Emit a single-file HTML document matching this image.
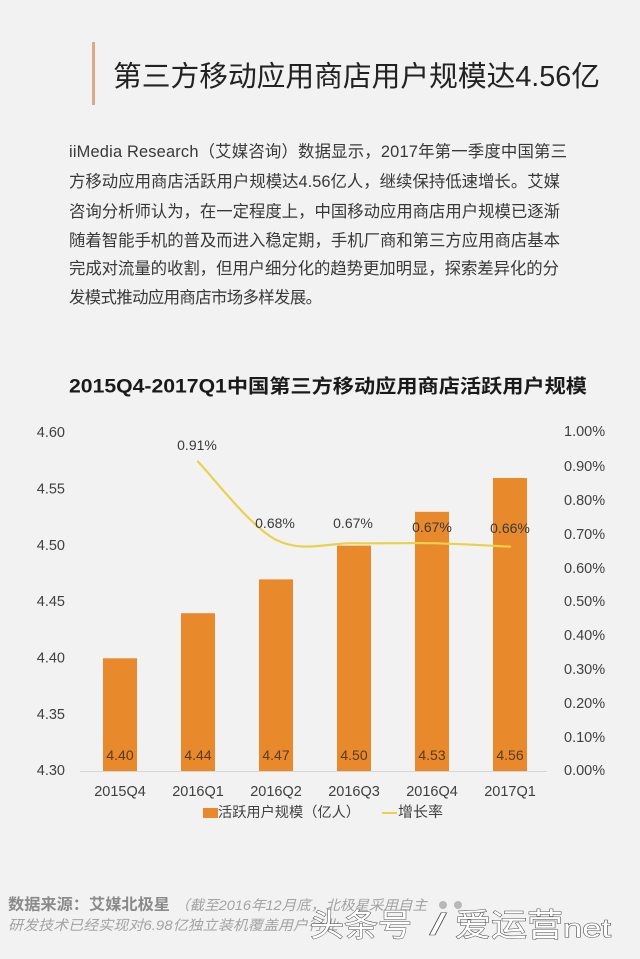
<!DOCTYPE html>
<html>
<head>
<meta charset="utf-8">
<style>
  html,body{margin:0;padding:0;background:#f3f2f3;}
  svg{display:block;}
  .cn{font-family:"Liberation Sans","Noto Sans CJK SC",sans-serif;}
</style>
</head>
<body>
<svg width="640" height="959" viewBox="0 0 640 959" xmlns="http://www.w3.org/2000/svg" class="cn">
  <rect x="0" y="0" width="640" height="959" fill="#f3f2f3"/>

  <!-- Header -->
  <rect x="92" y="42" width="3" height="63" fill="#dca88a"/>
  <text x="113" y="77" dominant-baseline="central" font-size="28.5" fill="#222" textLength="487" lengthAdjust="spacingAndGlyphs">第三方移动应用商店用户规模达4.56亿</text>

  <!-- Paragraph -->
  <g font-size="16.4" fill="#383838">
    <text x="69" y="152" dominant-baseline="central" textLength="498" lengthAdjust="spacing">iiMedia Research（艾媒咨询）数据显示，2017年第一季度中国第三</text>
    <text x="69" y="182" dominant-baseline="central" textLength="491" lengthAdjust="spacing">方移动应用商店活跃用户规模达4.56亿人，继续保持低速增长。艾媒</text>
    <text x="69" y="212" dominant-baseline="central" textLength="491" lengthAdjust="spacing">咨询分析师认为，在一定程度上，中国移动应用商店用户规模已逐渐</text>
    <text x="69" y="241" dominant-baseline="central" textLength="491" lengthAdjust="spacing">随着智能手机的普及而进入稳定期，手机厂商和第三方应用商店基本</text>
    <text x="69" y="269" dominant-baseline="central" textLength="490" lengthAdjust="spacing">完成对流量的收割，但用户细分化的趋势更加明显，探索差异化的分</text>
    <text x="69" y="298" dominant-baseline="central" textLength="253" lengthAdjust="spacing">发模式推动应用商店市场多样发展。</text>
  </g>

  <!-- Chart title -->
  <text x="69" y="387" dominant-baseline="central" font-size="19" font-weight="bold" fill="#1a1a1a" textLength="518" lengthAdjust="spacingAndGlyphs">2015Q4-2017Q1中国第三方移动应用商店活跃用户规模</text>

  <!-- Left axis labels -->
  <g font-size="14.5" fill="#404040" text-anchor="end">
    <text x="65" y="433" dominant-baseline="central">4.60</text>
    <text x="65" y="489.5" dominant-baseline="central">4.55</text>
    <text x="65" y="546" dominant-baseline="central">4.50</text>
    <text x="65" y="602" dominant-baseline="central">4.45</text>
    <text x="65" y="658.5" dominant-baseline="central">4.40</text>
    <text x="65" y="715" dominant-baseline="central">4.35</text>
    <text x="65" y="771" dominant-baseline="central">4.30</text>
  </g>

  <!-- Right axis labels -->
  <g font-size="14.5" fill="#404040">
    <text x="564" y="432" dominant-baseline="central">1.00%</text>
    <text x="564" y="467" dominant-baseline="central">0.90%</text>
    <text x="564" y="501" dominant-baseline="central">0.80%</text>
    <text x="564" y="535" dominant-baseline="central">0.70%</text>
    <text x="564" y="569" dominant-baseline="central">0.60%</text>
    <text x="564" y="602" dominant-baseline="central">0.50%</text>
    <text x="564" y="636" dominant-baseline="central">0.40%</text>
    <text x="564" y="670" dominant-baseline="central">0.30%</text>
    <text x="564" y="704" dominant-baseline="central">0.20%</text>
    <text x="564" y="738" dominant-baseline="central">0.10%</text>
    <text x="564" y="771" dominant-baseline="central">0.00%</text>
  </g>

  <!-- Bars -->
  <g fill="#e8892c">
    <rect x="103" y="658.3" width="34" height="112.7"/>
    <rect x="181" y="613.2" width="34" height="157.8"/>
    <rect x="259" y="579.4" width="34" height="191.6"/>
    <rect x="337" y="545.6" width="34" height="225.4"/>
    <rect x="415" y="511.8" width="34" height="259.2"/>
    <rect x="493" y="478.0" width="34" height="293.0"/>
  </g>

  <!-- Axis line -->
  <line x1="80" y1="771.5" x2="547" y2="771.5" stroke="#d6d6d6" stroke-width="1"/>

  <!-- Bar value labels -->
  <g font-size="14" fill="#5a3a1e" text-anchor="middle">
    <text x="120" y="755" dominant-baseline="central">4.40</text>
    <text x="198" y="755" dominant-baseline="central">4.44</text>
    <text x="276" y="755" dominant-baseline="central">4.47</text>
    <text x="354" y="755" dominant-baseline="central">4.50</text>
    <text x="432" y="755" dominant-baseline="central">4.53</text>
    <text x="510" y="755" dominant-baseline="central">4.56</text>
  </g>

  <!-- Growth line -->
  <path d="M198,461.6 C211,474.6 250,526.5 276,539.8 C302,553.1 328,542.7 354,543.2 C380,543.7 406,542.6 432,543.2 C458,543.8 497,546 510,546.6"
        fill="none" stroke="#e8d24a" stroke-width="2.2" stroke-linecap="round"/>

  <!-- Line labels -->
  <g font-size="14" fill="#3a3a3a" text-anchor="middle">
    <text x="197" y="445" dominant-baseline="central">0.91%</text>
    <text x="275" y="523" dominant-baseline="central">0.68%</text>
    <text x="353" y="523" dominant-baseline="central">0.67%</text>
    <text x="432" y="527" dominant-baseline="central">0.67%</text>
    <text x="510" y="528" dominant-baseline="central">0.66%</text>
  </g>

  <!-- X labels -->
  <g font-size="14.5" fill="#404040" text-anchor="middle">
    <text x="120" y="792" dominant-baseline="central">2015Q4</text>
    <text x="198" y="792" dominant-baseline="central">2016Q1</text>
    <text x="276" y="792" dominant-baseline="central">2016Q2</text>
    <text x="354" y="792" dominant-baseline="central">2016Q3</text>
    <text x="432" y="792" dominant-baseline="central">2016Q4</text>
    <text x="510" y="792" dominant-baseline="central">2017Q1</text>
  </g>

  <!-- Legend -->
  <rect x="203" y="808" width="15" height="10" fill="#e8892c"/>
  <text x="218" y="813" dominant-baseline="central" font-size="14.2" fill="#404040" textLength="142" lengthAdjust="spacingAndGlyphs">活跃用户规模（亿人）</text>
  <line x1="382" y1="813" x2="397" y2="813" stroke="#e8d24a" stroke-width="2"/>
  <text x="398" y="813" dominant-baseline="central" font-size="14.5" fill="#404040" textLength="45" lengthAdjust="spacingAndGlyphs">增长率</text>

  <!-- Footer source -->
  <text x="8" y="905" dominant-baseline="central" font-size="15.5" font-weight="bold" fill="#8a8a8a" textLength="162" lengthAdjust="spacingAndGlyphs">数据来源：艾媒北极星</text>
  <text x="175" y="905" dominant-baseline="central" font-size="14" font-style="italic" fill="#a3a3a3" textLength="252" lengthAdjust="spacingAndGlyphs">（截至2016年12月底，北极星采用自主</text>
  <text x="8" y="925" dominant-baseline="central" font-size="14" font-style="italic" fill="#a3a3a3" textLength="330" lengthAdjust="spacingAndGlyphs">研发技术已经实现对6.98亿独立装机覆盖用户行业</text>

  <!-- Overlay watermark -->
  <g font-size="32" fill="#ffffff" stroke="#4a4a4a" stroke-width="1" paint-order="stroke">
    <text x="310" y="925" dominant-baseline="central" textLength="102" lengthAdjust="spacingAndGlyphs">头条号</text>
    <text x="430" y="925" dominant-baseline="central" font-size="30" textLength="16" lengthAdjust="spacingAndGlyphs">/</text>
    <text x="455" y="925" dominant-baseline="central" textLength="108" lengthAdjust="spacingAndGlyphs">爱运营</text>
    <text x="563" y="928" dominant-baseline="central" font-size="26" textLength="48" lengthAdjust="spacingAndGlyphs">net</text>
  </g>
  <circle cx="443" cy="905" r="4" fill="#b8b8b8"/>
  <circle cx="458" cy="905" r="4" fill="#b8b8b8"/>
</svg>
</body>
</html>
